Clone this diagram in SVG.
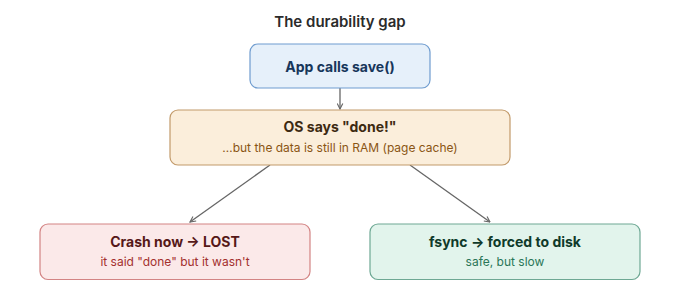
<svg xmlns="http://www.w3.org/2000/svg" width="680" height="300" viewBox="0 0 680 300">
<defs>
<marker id="arr" viewBox="0 0 10 10" refX="9" refY="5" markerWidth="7" markerHeight="7" orient="auto" markerUnits="userSpaceOnUse">
<path d="M1,1 L9,5 L1,9" fill="none" stroke="#666" stroke-width="1.6"/>
</marker>
<style>
text{font-family:Inter,"Liberation Sans",sans-serif;text-anchor:middle}
.t{font-size:14px;font-weight:700}
.s{font-size:12px}
.b{stroke-width:1.2}
.c{stroke:#666;stroke-width:1.3;fill:none}
</style>
</defs>
<rect width="680" height="300" fill="#fff"/>
<text x="340" y="27" style="font-size:15px;font-weight:600" fill="#2b2b2b">The durability gap</text>
<g id="connectors">
<line class="c" x1="340" y1="88" x2="340" y2="109" marker-end="url(#arr)"/>
<line class="c" x1="270" y1="165" x2="190" y2="222" marker-end="url(#arr)"/>
<line class="c" x1="410" y1="165" x2="490" y2="222" marker-end="url(#arr)"/>
</g>
<g id="app">
<rect class="b" x="250" y="44" width="180" height="44" rx="8" fill="#e6f0fa" stroke="#6f9ccf"/>
<text class="t" x="340" y="71.5" fill="#17365a">App calls save()</text>
</g>
<g id="os">
<rect class="b" x="170" y="110" width="340" height="55" rx="8" fill="#fbeedb" stroke="#c29a6a"/>
<text class="t" x="340" y="132" fill="#3d2a12">OS says "done!"</text>
<text class="s" x="340" y="152" fill="#8a5514">…but the data is still in RAM (page cache)</text>
</g>
<g id="crash">
<rect class="b" x="40" y="224" width="270" height="55.5" rx="8" fill="#fbe9e9" stroke="#d38484"/>
<text class="t" x="175" y="246.5" fill="#561818">Crash now → LOST</text>
<text class="s" x="175" y="266" fill="#a3302e">it said "done" but it wasn't</text>
</g>
<g id="fsync">
<rect class="b" x="370" y="224" width="270" height="55.5" rx="8" fill="#e2f4ec" stroke="#6ea894"/>
<text class="t" x="505" y="246.5" fill="#0f3a2a">fsync → forced to disk</text>
<text class="s" x="505" y="266" fill="#2a7658">safe, but slow</text>
</g>
</svg>
